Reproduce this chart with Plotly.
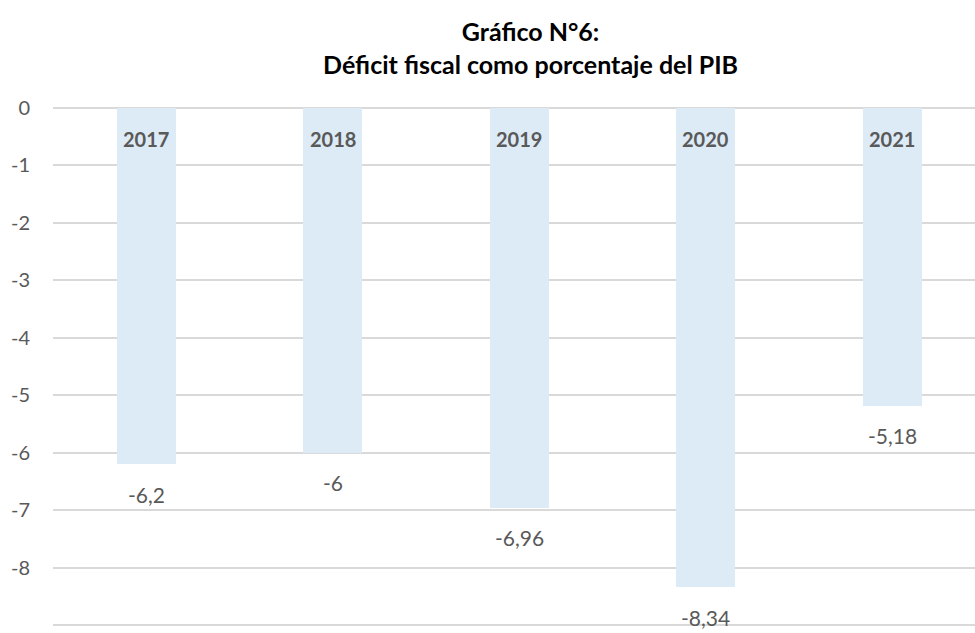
"""
Bar chart: fiscal deficit as a percentage of GDP, 2017-2021.
"""

import plotly.graph_objects as go

# Data
years = ['2017', '2018', '2019', '2020', '2021']
deficit = [-6.2, -6, -6.96, -8.34, -5.18]
y_ticks = [0, -1, -2, -3, -4, -5, -6, -7, -8, -9]
y_tick_labels = ['0', '-1', '-2', '-3', '-4', '-5', '-6', '-7', '-8', '-9']

BAR_COLOR = '#DDEBF7'
TEXT_COLOR = '#595959'
GRID_COLOR = '#D9D9D9'
FONT = 'Lato, sans-serif'


def fmt(v):
    # Spanish decimal comma, hyphen for minus
    return f'{v:g}'.replace('.', ',')


fig = go.Figure()

fig.add_trace(go.Bar(
    x=years,
    y=deficit,
    marker=dict(color=BAR_COLOR, line=dict(width=0)),
    width=0.316,
    hoverinfo='skip',
    showlegend=False
))

annotations = []

# Year labels near the top of each bar
for idx, yr in enumerate(years):
    annotations.append(dict(
        x=idx, y=-0.55, xref='x', yref='y',
        text=f'<b>{yr}</b>', showarrow=False,
        font=dict(family=FONT, size=20, color=TEXT_COLOR),
        xanchor='center', yanchor='middle'
    ))

# Value labels below each bar end
for idx, v in enumerate(deficit):
    annotations.append(dict(
        x=idx, y=v, xref='x', yref='y',
        text=fmt(v), showarrow=False, yshift=-30,
        font=dict(family=FONT, size=21, color=TEXT_COLOR),
        xanchor='center', yanchor='middle'
    ))

fig.update_layout(
    title=dict(
        text='<b>Gráfico N°6:<br>Déficit fiscal como porcentaje del PIB</b>',
        font=dict(family=FONT, size=25, color='#000000'),
        x=0.518, xref='paper', xanchor='center',
        y=0.935, yref='container', yanchor='middle'
    ),
    xaxis=dict(
        type='category',
        range=[-0.5, 4.443],
        showticklabels=False,
        showgrid=False,
        zeroline=False,
        showline=False
    ),
    yaxis=dict(
        range=[-9.05, 0.05],
        tickvals=y_ticks,
        ticktext=y_tick_labels,
        tickfont=dict(family=FONT, size=20, color=TEXT_COLOR),
        showgrid=True,
        gridcolor=GRID_COLOR,
        gridwidth=1.5,
        zeroline=True,
        zerolinecolor=GRID_COLOR,
        zerolinewidth=1.5,
        showline=False,
        ticklabelstandoff=22
    ),
    annotations=annotations,
    bargap=0,
    plot_bgcolor='white',
    paper_bgcolor='white',
    font=dict(family=FONT, color=TEXT_COLOR),
    margin=dict(l=53, r=0, t=105, b=5),
    width=975,
    height=633
)

fig.write_html(
    'out.html',
    config={'displayModeBar': False},
    post_script="document.body.style.margin='0';"
)
